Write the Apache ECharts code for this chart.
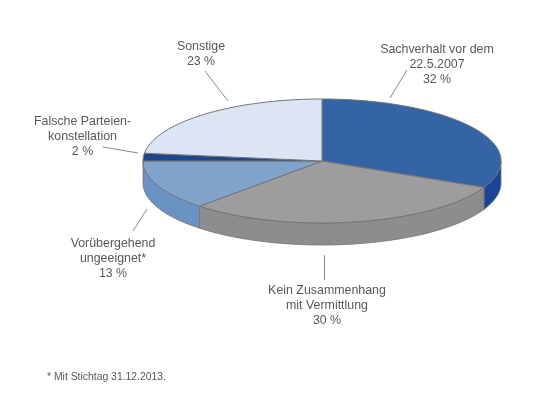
<!DOCTYPE html>
<html>
<head>
<meta charset="utf-8">
<style>html,body{margin:0;padding:0;background:#fff}#c{width:556px;height:395px}</style>
<script src="https://cdn.jsdelivr.net/npm/echarts@6/dist/echarts.min.js"></script>
</head>
<body>
<div id="c"></div>
<script>
const categories = ['Sachverhalt vor dem\n22.5.2007', 'Kein Zusammenhang\nmit Vermittlung', 'Vorübergehend\nungeeignet*', 'Falsche Parteien-\nkonstellation', 'Sonstige'];
const values = [32, 30, 13, 2, 23];
const footnote = '* Mit Stichtag 31.12.2013.';
const topColors = ['#3464a6', '#9d9c9e', '#7fa3cb', '#1c4690', '#dce5f3'];
const wallColors = ['#1b4497', '#8d8c8e', '#6a92c3', '#1c4690', '#dce5f3'];
const labelAnchors = [[437, 65], [327, 306], [113, 259], [82.5, 137], [201, 54]];
const leaderLines = [[[407, 70], [390, 98]], [[324.5, 255], [324.5, 280]], [[147, 209], [133, 231]], [[103, 147], [138, 153]], [[205, 71], [228, 101]]];

const CX = 322, CY = 161, RX = 179, RY = 62, DEPTH = 22;
const total = values.reduce((a, b) => a + b, 0);
let acc = 0;
const seriesData = values.map((v, i) => {
  const start = acc / total * 360;
  acc += v;
  return { name: categories[i], value: [start, acc / total * 360, v] };
});
const rad = d => d * Math.PI / 180;
const pt = (d, dy) => [CX + RX * Math.sin(rad(d)), CY - RY * Math.cos(rad(d)) + (dy || 0)];
function arc(a, b, dy) {
  const n = Math.max(2, Math.ceil((b - a) / 1.5)), out = [];
  for (let k = 0; k <= n; k++) out.push(pt(a + (b - a) * k / n, dy));
  return out;
}
const EDGE = '#737475';
function renderItem(params, api) {
  const i = params.dataIndex, a = api.value(0), b = api.value(1), v = api.value(2);
  const children = [];
  const wa = Math.max(a, 90), wb = Math.min(b, 270);
  if (wb > wa) {
    const front = arc(wa, wb, 0);
    const back = arc(wa, wb, DEPTH).reverse();
    children.push({ type: 'polygon', shape: { points: front.concat(back) },
      style: { fill: wallColors[i], stroke: EDGE, lineWidth: 0.8 } });
  }
  children.push({ type: 'polygon', shape: { points: [[CX, CY]].concat(arc(a, b, 0)) },
    style: { fill: topColors[i], stroke: EDGE, lineWidth: 1 } });
  const L = leaderLines[i];
  children.push({ type: 'line', shape: { x1: L[0][0], y1: L[0][1], x2: L[1][0], y2: L[1][1] },
    style: { stroke: '#8a8a8a', lineWidth: 1 } });
  children.push({ type: 'text', style: {
    text: categories[i] + '\n' + v + ' %', x: labelAnchors[i][0], y: labelAnchors[i][1],
    align: 'center', verticalAlign: 'middle', lineHeight: 15,
    font: '12.4px "Liberation Sans", Arial, sans-serif', fill: '#58585a' } });
  return { type: 'group', children };
}
const chart = echarts.init(document.getElementById('c'), null, { renderer: 'canvas' });
chart.setOption({
  animation: false,
  backgroundColor: '#fff',
  series: [{ type: 'custom', coordinateSystem: 'none', renderItem, data: seriesData, silent: true }],
  graphic: [{ type: 'text', left: 47, top: 372, style: {
    text: footnote, font: '10.4px "Liberation Sans", Arial, sans-serif', fill: '#58585a' } }]
});
</script>
</body>
</html>
